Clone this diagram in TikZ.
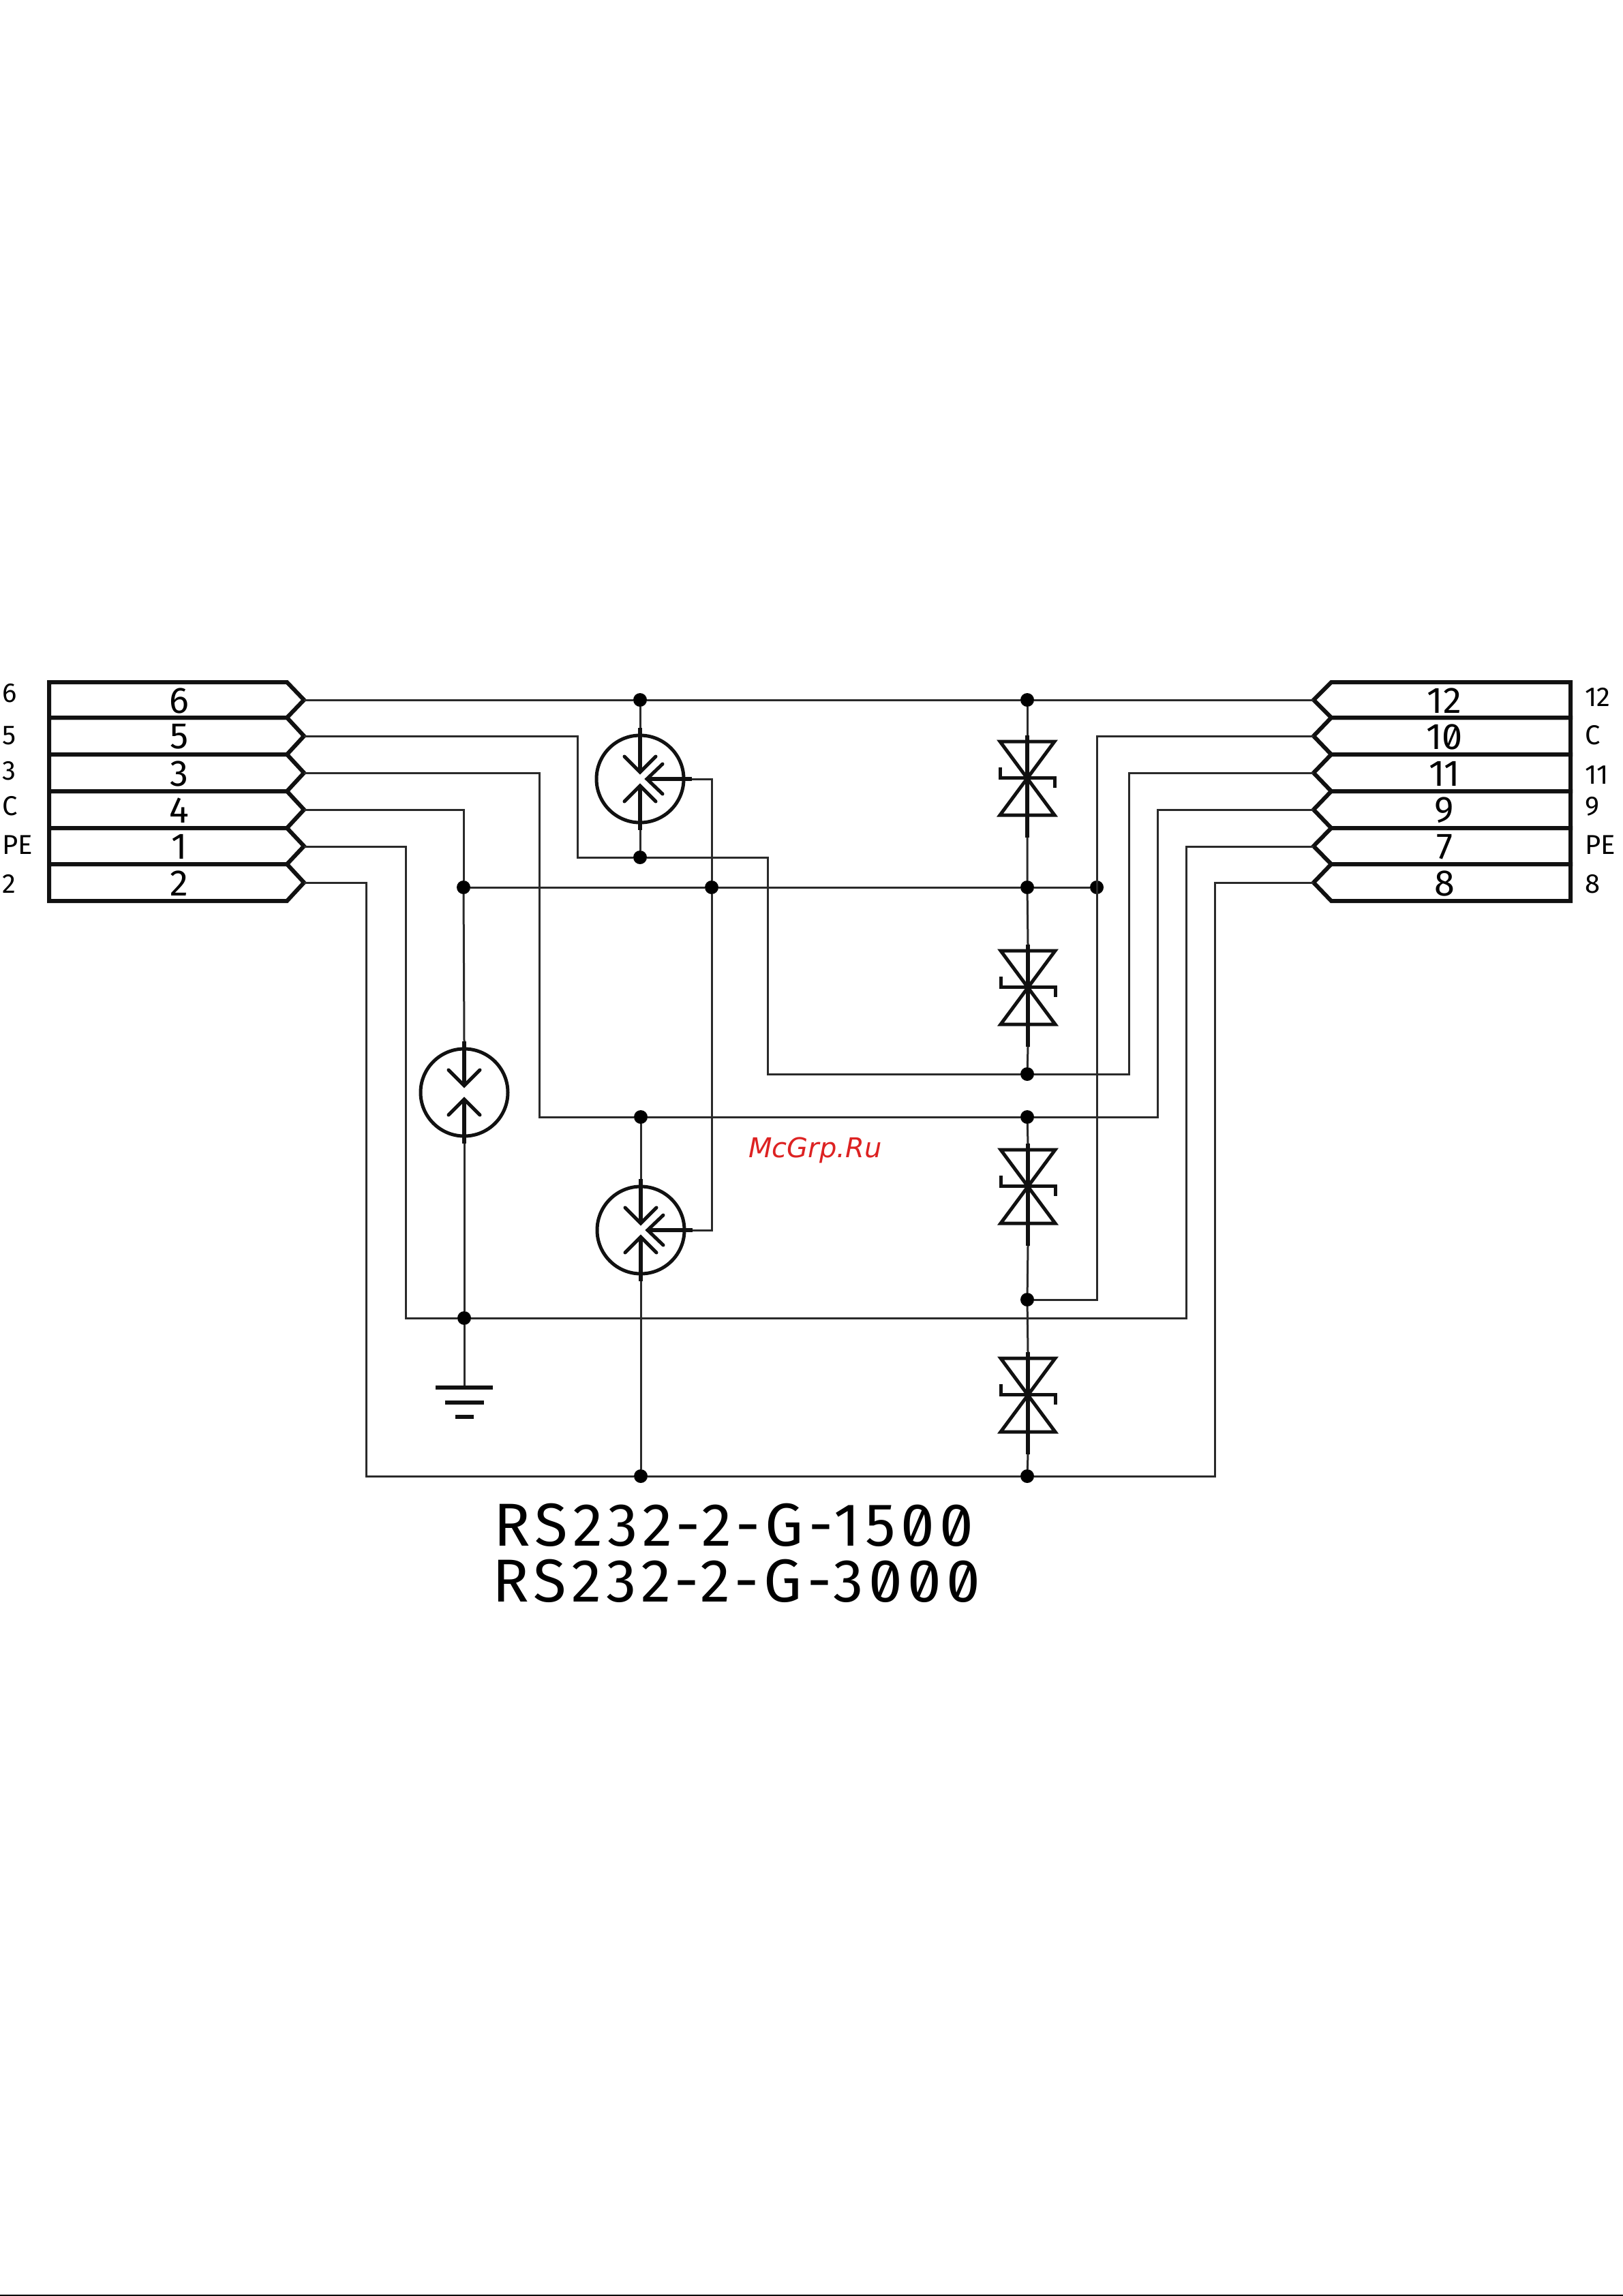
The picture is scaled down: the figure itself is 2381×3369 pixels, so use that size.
\documentclass[tikz,border=0pt]{standalone}
\usepackage{fontspec}
\setmainfont[Numbers=SlashedZero]{Fira Sans}
\newfontfamily\wmfont{DejaVu Sans}
\newfontfamily\titlefont[Numbers=SlashedZero,LetterSpace=8.5]{Fira Sans}
\definecolor{inkc}{HTML}{111111}
\definecolor{wirec}{HTML}{2A2A2A}
\definecolor{wmred}{HTML}{DD2222}
\newcommand{\fsz}[1]{\fontsize{#1}{#1}\selectfont}
\usetikzlibrary{calc}
\tikzset{
  x=1pt,y=-1pt,
  wire/.style={draw=wirec,line width=3pt,line join=miter},
  thick line/.style={draw=inkc,line width=6pt,line join=miter},
  sym line/.style={draw=inkc,line width=5pt,line cap=round,line join=miter},
  junction/.style={circle,fill=black,inner sep=0pt,minimum size=20pt},
  pin num/.style={inner sep=0pt,font=\fsz{54}},
  pin label/.style={inner sep=0pt,anchor=west,font=\fsz{40}},
  title text/.style={inner sep=0pt,anchor=west,font=\titlefont\fsz{89}},
}
% gas discharge tube: #1 name, #2 x, #3 y
\newcommand{\gasbody}[3]{%
  \coordinate (#1-c) at (#2,#3);
  \coordinate (#1-top) at (#2,#3-75);
  \coordinate (#1-bot) at (#2,#3+75);
  \draw[sym line] (#1-c) circle[radius=64];
  \draw[thick line] (#1-top) -- ++(0,65);
  \draw[thick line] (#1-bot) -- ++(0,-65);
  \draw[sym line] ($(#1-c)+(-23,-33)$) -- ($(#1-c)+(0,-10)$) -- ($(#1-c)+(23,-33)$);
  \draw[sym line] ($(#1-c)+(-23,33)$) -- ($(#1-c)+(0,10)$) -- ($(#1-c)+(23,33)$);
}
\newcommand{\gasside}[1]{%
  \coordinate (#1-side) at ($(#1-c)+(76,0)$);
  \draw[thick line] (#1-side) -- ++(-66,0);
  \draw[sym line] ($(#1-c)+(33,-22)$) -- ($(#1-c)+(10,0)$) -- ($(#1-c)+(33,22)$);
}
% bidirectional TVS: #1 name, #2 x, #3 y of the cross bar
\newcommand{\tvs}[3]{%
  \coordinate (#1-c) at (#2,#3);
  \coordinate (#1-top) at (#2,#3-62);
  \coordinate (#1-bot) at (#2,#3+88);
  \draw[thick line] (#1-top) -- (#1-bot);
  \draw[sym line,line cap=butt,miter limit=10] ($(#1-c)+(-40,-53)$) -- ($(#1-c)+(40,-53)$) -- ($(#1-c)+(-40,55)$) -- ($(#1-c)+(40,55)$) -- cycle;
  \draw[sym line,line cap=butt] ($(#1-c)+(-40,-15)$) -- ($(#1-c)+(-40,0)$) -- ($(#1-c)+(40,0)$) -- ($(#1-c)+(40,15)$);
}
\begin{document}
\begin{tikzpicture}
\useasboundingbox (0,0) rectangle (2381,3369);
\fill[white] (0,0) rectangle (2381,3369);
\draw[draw=black,line width=2pt] (0,3368) -- (2381,3368);

% left connector
\foreach \t/\b/\lab [count=\i] in {1001/1053/6,1053/1107/5,1107/1161/3,1161/1215/4,1215/1268/1,1268/1322/2}{
  \draw[thick line] (72,\t) -- (421,\t) -- (446,{(\t+\b)/2}) -- (421,\b) -- (72,\b) -- cycle;
  \node[pin num] (lnum\i) at (263,{(\t+\b)/2+1}) {\lab};
}
% right connector
\foreach \t/\b/\lab [count=\i] in {1001/1053/12,1053/1107/10,1107/1161/11,1161/1215/9,1215/1268/7,1268/1322/8}{
  \draw[thick line] (2304,\t) -- (1953,\t) -- (1927,{(\t+\b)/2}) -- (1953,\b) -- (2304,\b) -- cycle;
  \node[pin num] (rnum\i) at (2119,{(\t+\b)/2+1}) {\lab};
}
% outer labels
\node[pin label] (la) at (3,1017) {6};
\node[pin label] (lb) at (3,1079) {5};
\node[pin label] (lc) at (3,1131) {3};
\node[pin label] (ld) at (3,1183) {C};
\node[pin label] (le) at (3,1240) {PE};
\node[pin label] (lf) at (3,1297) {2};
\node[pin label] (ra) at (2325,1023) {12};
\node[pin label] (rb) at (2325,1079) {C};
\node[pin label] (rc) at (2325,1137) {11};
\node[pin label] (rd) at (2325,1183) {9};
\node[pin label] (re) at (2325,1240) {PE};
\node[pin label] (rf) at (2325,1297) {8};

% connector tips
\coordinate (L6) at (446,1027);
\coordinate (L5) at (446,1080);
\coordinate (L3) at (446,1134);
\coordinate (L4) at (446,1188);
\coordinate (L1) at (446,1242);
\coordinate (L2) at (446,1295);
\coordinate (R12) at (1927,1027);
\coordinate (R10) at (1927,1080);
\coordinate (R11) at (1927,1134);
\coordinate (R9) at (1927,1188);
\coordinate (R7) at (1927,1242);
\coordinate (R8) at (1927,1295);

% junctions
\node[junction] (j6a) at (939,1027) {};
\node[junction] (j6b) at (1507,1027) {};
\node[junction] (j5) at (939,1258) {};
\node[junction] (jc1) at (680,1302) {};
\node[junction] (jc2) at (1044,1302) {};
\node[junction] (jc3) at (1507,1302) {};
\node[junction] (jc4) at (1609,1302) {};
\node[junction] (j11) at (1507,1576) {};
\node[junction] (j3a) at (940,1639) {};
\node[junction] (j3b) at (1507,1639) {};
\node[junction] (j10) at (1507,1907) {};
\node[junction] (j1) at (681,1934) {};
\node[junction] (j2a) at (940,2166) {};
\node[junction] (j2b) at (1507,2166) {};

% bends
\coordinate (b5a) at (847,1258);
\coordinate (b5b) at (1126,1258);
\coordinate (b5c) at (1126,1576);
\coordinate (b5d) at (1656,1576);
\coordinate (b3) at (791,1639);
\coordinate (b9) at (1698,1639);
\coordinate (b1a) at (595,1934);
\coordinate (b1b) at (1740,1934);
\coordinate (b2a) at (537,2166);
\coordinate (b2b) at (1782,2166);
\coordinate (b10) at (1609,1907);
\coordinate (gnd) at (681,2036);

% components
\gasbody{gt1}{939}{1143}
\gasside{gt1}
\gasbody{gt2}{681}{1603}
\gasbody{gt3}{940}{1805}
\gasside{gt3}
\tvs{tv1}{1507}{1141}
\tvs{tv2}{1508}{1448}
\tvs{tv3}{1508}{1740}
\tvs{tv4}{1508}{2046}

% wires
\draw[wire] (L6) -- (j6a) -- (j6b) -- (R12);
\draw[wire] (L5) -| (b5a) -- (j5) -- (b5b) -- (b5c) -- (j11) -- (b5d) |- (R11);
\draw[wire] (L3) -| (b3) -- (j3a) -- (j3b) -- (b9) |- (R9);
\draw[wire] (L4) -| (jc1);
\draw[wire] (L1) -| (b1a) -- (j1) -- (b1b) |- (R7);
\draw[wire] (L2) -| (b2a) -- (j2a) -- (j2b) -- (b2b) |- (R8);
\draw[wire] (R10) -| (b10) -- (j10);
\draw[wire] (jc1) -- (jc2) -- (jc3) -- (jc4);
\draw[wire] (jc1) -- (gt2-top);
\draw[wire] (gt2-bot) -- (j1) -- (gnd);
\draw[wire] (j6a) -- (gt1-top);
\draw[wire] (gt1-bot) -- (j5);
\draw[wire] (j3a) -- (gt3-top);
\draw[wire] (gt3-bot) -- (j2a);
\draw[wire] (gt1-side) -| (jc2);
\draw[wire] (gt3-side) -| (jc2);
\draw[wire] (j6b) -- (tv1-top);
\draw[wire] (tv1-bot) -- (jc3) -- (tv2-top);
\draw[wire] (tv2-bot) -- (j11);
\draw[wire] (j3b) -- (tv3-top);
\draw[wire] (tv3-bot) -- (j10) -- (tv4-top);
\draw[wire] (tv4-bot) -- (j2b);

% ground
\draw[thick line] (639,2036) -- (723,2036);
\draw[thick line] (653,2058) -- (710,2058);
\draw[thick line] (668,2079) -- (695,2079);

% titles
\node[title text] (t1) at (724,2238) {RS232-2-G-1500};
\node[title text] (t2) at (722,2320) {RS232-2-G-3000};
\node[inner sep=0pt,anchor=base west,text=wmred,font=\wmfont\itshape\fsz{40}] (wm) at (1098,1698) {McGrp.Ru};
\end{tikzpicture}
\end{document}
